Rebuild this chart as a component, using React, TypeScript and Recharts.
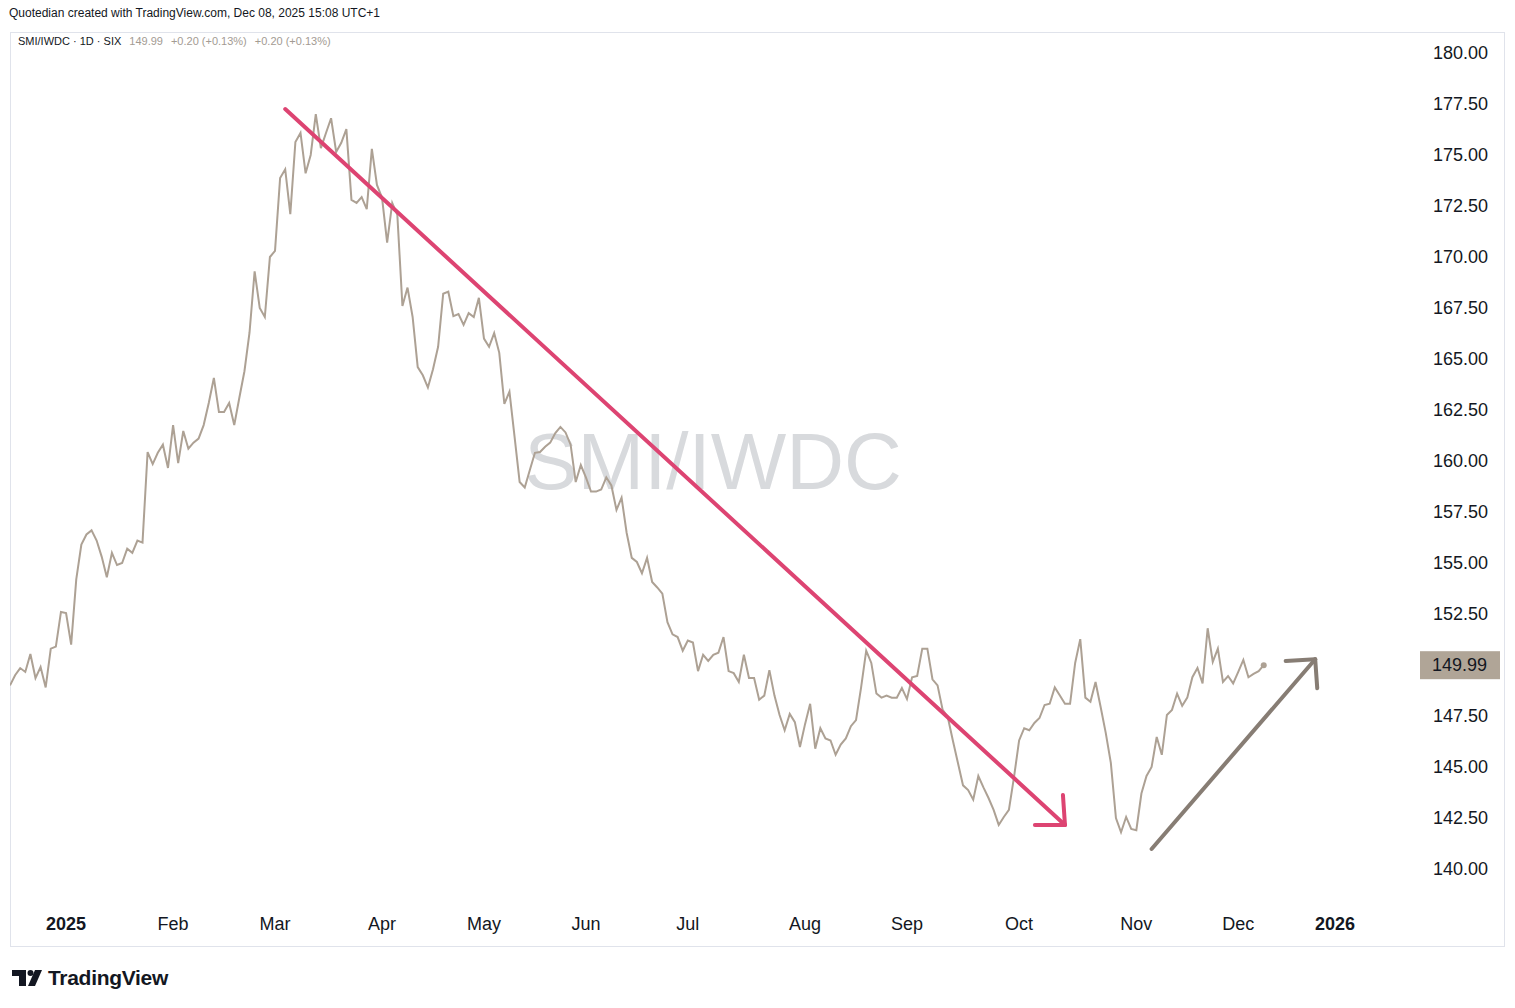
import React from "react";
import { LineChart, Line, XAxis, YAxis, ReferenceLine } from "recharts";

// SMI / IWDC daily ratio, 12 Dec 2024 -> 8 Dec 2025 (SIX trading days)
const ratio = [
  149.0, 149.5, 149.85, 149.66, 150.54, 149.36, 149.9, 148.9, 150.8, 150.9,
  152.6, 152.55, 151.0, 154.2, 155.9, 156.4, 156.6, 156.1, 155.3, 154.3,
  155.5, 154.9, 155.0, 155.7, 155.5, 156.1, 156.0, 160.44, 159.85, 160.4,
  160.8, 159.66, 161.76, 159.9, 161.47, 160.6, 160.9, 161.1, 161.76, 162.84,
  164.07, 162.4, 162.4, 162.84, 161.76, 163.1, 164.4, 166.3, 169.3, 167.5,
  167.06, 170.0, 170.3, 173.87, 174.3, 172.1, 175.64, 176.08, 174.1, 175.0,
  177.0, 175.34, 176.08, 176.8, 175.15, 175.6, 176.27, 172.8, 172.65, 172.94,
  172.35, 175.3, 173.53, 172.9, 170.7, 172.65, 172.06, 167.6, 168.5, 167.06,
  164.6, 164.2, 163.6, 164.5, 165.6, 168.2, 168.3, 167.1, 167.2, 166.67,
  167.25, 167.06, 168.0, 166.0, 165.6, 166.27, 165.3, 162.8, 163.4, 161.2,
  158.97, 158.7, 159.56, 160.4, 160.44, 160.7, 160.9, 161.37, 161.67, 161.4,
  160.8, 158.97, 159.8, 159.2, 158.5, 158.5, 158.6, 159.2, 158.8, 157.6,
  158.2, 156.47, 155.25, 155.05, 154.5, 155.25, 154.07, 153.8, 153.5, 152.1,
  151.5, 151.37, 150.7, 151.2, 151.1, 149.7, 150.5, 150.2, 150.5, 150.6,
  151.37, 149.7, 149.6, 149.17, 150.5, 149.36, 149.36, 148.3, 148.5, 149.75,
  148.5, 147.55, 146.8, 147.6, 147.2, 145.98, 147.1, 148.1, 145.9, 146.9,
  146.4, 146.3, 145.6, 146.1, 146.4, 147.0, 147.3, 148.9, 150.7, 150.1,
  148.6, 148.4, 148.5, 148.4, 148.4, 148.87, 148.33, 149.4, 149.46, 150.8,
  150.8, 149.3, 149.0, 147.8, 147.45, 146.3, 145.2, 144.1, 143.87, 143.4,
  144.56, 144.0, 143.48, 142.9, 142.16, 142.55, 142.9, 144.5, 146.3, 146.9,
  146.8, 147.16, 147.4, 148.04, 148.1, 148.9, 148.5, 148.1, 148.1, 150.1,
  151.27, 148.4, 148.2, 149.17, 147.94, 146.67, 145.2, 142.5, 141.8, 142.55,
  141.96, 141.9, 143.7, 144.56, 145.0, 146.47, 145.6, 147.55, 147.8, 148.6,
  148.0, 148.4, 149.4, 149.85, 149.1, 151.8, 150.15, 150.8, 149.17, 149.46,
  149.1, 149.66, 150.25, 149.4, 149.56, 149.7, 149.99,
];

// time axis: bars before 3 Jan 2025, then trading days per month
const leadBars = 11;
const monthLabels = ["2025", "Feb", "Mar", "Apr", "May", "Jun", "Jul", "Aug", "Sep", "Oct", "Nov", "Dec", "2026"];
const monthBars = [21, 20, 21, 20, 20, 20, 23, 20, 22, 23, 20, 19];

const priceTicks = [140, 142.5, 145, 147.5, 150, 152.5, 155, 157.5, 160, 162.5, 165, 167.5, 170, 172.5, 175, 177.5, 180];

// hand-drawn arrows, in (bar, price)
const fallArrow = [{ x: 54, y: 177.25 }, { x: 207, y: 142.16 }];
const fallHead = [{ x: 201.1, y: 142.16 }, { x: 206.6, y: 143.63 }];
const riseArrow = [{ x: 224, y: 140.98 }, { x: 256.1, y: 150.28 }];
const riseHead = [{ x: 250.3, y: 150.2 }, { x: 256.5, y: 148.86 }];

const lastClose = ratio[ratio.length - 1];

const data = ratio.map((v, i) => ({ i, v }));

const monthTicks: number[] = [];
let acc = leadBars;
monthLabels.forEach((_, k) => {
  monthTicks.push(acc);
  acc += monthBars[k] || 0;
});
const labelFor = (t: number) => monthLabels[monthTicks.indexOf(t)] || "";

// the price badge hides the scale label it sits on
const shownPriceTicks = priceTicks.filter((t) => Math.abs(t - lastClose) > 0.8);

const FONT = "'Liberation Sans', Arial, sans-serif";
const TEXT = "#131722";
const LINE = "#ada194";
const PINK = "#dd4472";
const TAUPE = "#877d74";

const MonthTick = (props: any) => {
  const { x, y, payload } = props;
  const label = labelFor(payload.value);
  const year = /^\d{4}$/.test(label);
  return (
    <text x={x} y={y} dy="0.71em" textAnchor="middle" fontSize={18} fontFamily={FONT} fontWeight={year ? 700 : 400} fill={TEXT}>
      {label}
    </text>
  );
};

const PriceTick = (props: any) => {
  const { x, y, payload } = props;
  return (
    <text x={x} y={y} dy="0.35em" textAnchor="start" fontSize={18} fontFamily={FONT} fill={TEXT}>
      {Number(payload.value).toFixed(2)}
    </text>
  );
};

const PriceBadge = (props: any) => {
  const { viewBox } = props;
  const bx = viewBox.x + viewBox.width + 10;
  return (
    <g>
      <rect x={bx} y={viewBox.y - 14} width={80} height={28} fill="#b0a597" />
      <text x={bx + 12} y={viewBox.y} dy="0.35em" fontSize={18} fontFamily={FONT} fill={TEXT}>
        {lastClose.toFixed(2)}
      </text>
    </g>
  );
};

const LastDot = (props: any) => {
  const { cx, cy, index } = props;
  if (index !== ratio.length - 1) return <g key={index} />;
  return <circle key={index} cx={cx} cy={cy} r={3} fill={LINE} />;
};

export default function App() {
  return (
    <div style={{ position: "absolute", left: 0, top: 0, width: 1515, height: 1008, background: "#fff", fontFamily: FONT, color: TEXT, overflow: "hidden" }}>
      <div style={{ position: "absolute", left: 9, top: 6, fontSize: 12, whiteSpace: "nowrap" }}>
        Quotedian created with TradingView.com, Dec 08, 2025 15:08 UTC+1
      </div>

      <div style={{ position: "absolute", left: 10, top: 32, width: 1495, height: 915, border: "1px solid #e0e3eb", boxSizing: "border-box" }} />

      <div style={{ position: "absolute", left: 413, top: 412, width: 600, textAlign: "center", fontSize: 80, lineHeight: "100px", color: "#d8dadd", whiteSpace: "nowrap" }}>
        SMI/IWDC
      </div>

      <div style={{ position: "absolute", left: 10, top: 32 }}>
        <LineChart width={1495} height={915} data={data} margin={{ top: 0, right: 0, bottom: 0, left: 0 }}>
          <XAxis
            dataKey="i"
            type="number"
            domain={[0, 274.7]}
            ticks={monthTicks}
            interval={0}
            tickLine={false}
            axisLine={false}
            tickMargin={4}
            height={40}
            tick={<MonthTick />}
            allowDataOverflow
          />
          <YAxis
            orientation="right"
            type="number"
            domain={[138.137, 181.029]}
            ticks={shownPriceTicks}
            interval={0}
            tickLine={false}
            axisLine={false}
            tickMargin={17}
            width={95}
            tick={<PriceTick />}
            allowDataOverflow
          />
          <Line type="linear" dataKey="v" stroke={LINE} strokeWidth={2} dot={<LastDot />} activeDot={false} isAnimationActive={false} />
          <ReferenceLine y={lastClose} stroke="none" label={<PriceBadge />} />
          <ReferenceLine segment={fallArrow} stroke={PINK} strokeWidth={4} strokeLinecap="round" />
          <ReferenceLine segment={[fallHead[0], fallArrow[1]]} stroke={PINK} strokeWidth={4} strokeLinecap="round" />
          <ReferenceLine segment={[fallHead[1], fallArrow[1]]} stroke={PINK} strokeWidth={4} strokeLinecap="round" />
          <ReferenceLine segment={riseArrow} stroke={TAUPE} strokeWidth={4} strokeLinecap="round" />
          <ReferenceLine segment={[riseHead[0], riseArrow[1]]} stroke={TAUPE} strokeWidth={4} strokeLinecap="round" />
          <ReferenceLine segment={[riseHead[1], riseArrow[1]]} stroke={TAUPE} strokeWidth={4} strokeLinecap="round" />
        </LineChart>
      </div>

      <div style={{ position: "absolute", left: 18, top: 35, fontSize: 11, whiteSpace: "nowrap" }}>
        SMI/IWDC · 1D · SIX
        <span style={{ color: "#a39b93", marginLeft: 8 }}>149.99</span>
        <span style={{ color: "#a39b93", marginLeft: 8 }}>+0.20 (+0.13%)</span>
        <span style={{ color: "#a39b93", marginLeft: 8 }}>+0.20 (+0.13%)</span>
      </div>

      <div style={{ position: "absolute", left: 11, top: 966, display: "flex", alignItems: "center" }}>
        <svg width={32} height={20} viewBox="0 0 32 20">
          <rect x={1} y={2} width={14} height={6} fill={TEXT} />
          <rect x={8} y={2} width={7} height={16} fill={TEXT} />
          <circle cx={19.5} cy={5} r={3} fill={TEXT} />
          <polygon points="24,2 31,2 24,18 17,18" fill={TEXT} />
        </svg>
        <span style={{ marginLeft: 5, fontSize: 21, fontWeight: 700, letterSpacing: -0.3 }}>TradingView</span>
      </div>
    </div>
  );
}
